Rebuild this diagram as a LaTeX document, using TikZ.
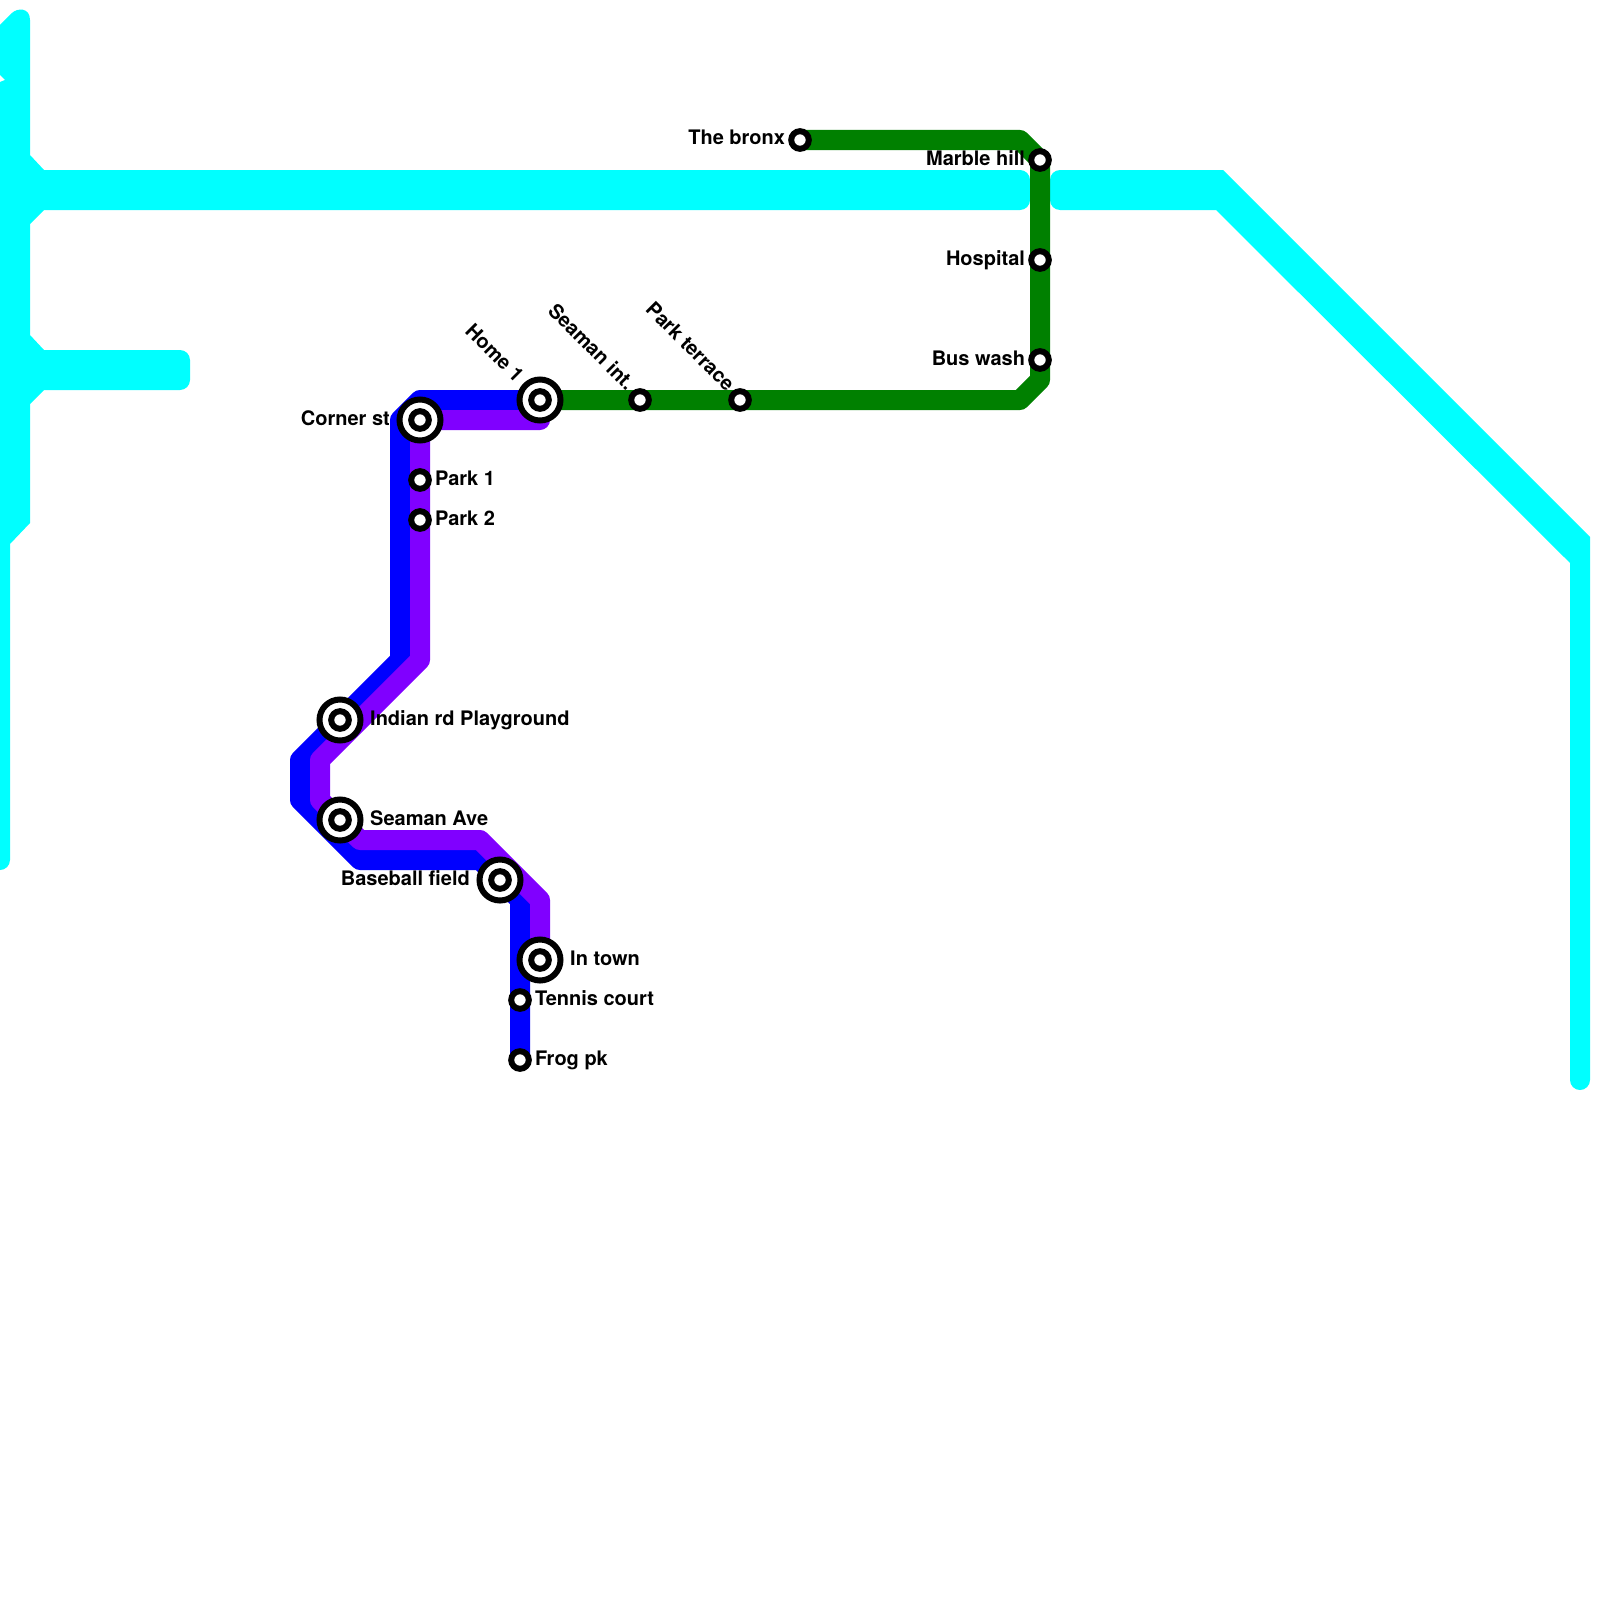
\documentclass[tikz,border=0pt]{standalone}
\usepackage{fontspec}
\setmainfont{TeX Gyre Heros}
\usetikzlibrary{positioning, calc, backgrounds}

\definecolor{lineaqua}{HTML}{00FFFF}
\definecolor{lineblue}{HTML}{0000FF}
\definecolor{linepurple}{HTML}{8000FF}
\definecolor{linegreen}{HTML}{008000}

\begin{document}
\begin{tikzpicture}[
    x=1pt, y=-1pt,
    node distance=6.5pt,
    stop/.style={circle, draw=black, fill=white, line width=6pt, minimum size=17.6pt, inner sep=0pt, outer sep=0pt},
    hub/.style={stop, minimum size=41pt},
    stoplabel/.style={inner sep=0pt, text height=10pt, text depth=0pt, font=\bfseries\fontsize{20}{24}\selectfont},
    route/.style={line width=20pt, line cap=round, line join=round}
]
    \useasboundingbox (0,0) rectangle (1600,1600);

    \node[hub] (home) at (540,400) {};
    \node[stop] (homecore) at (home) {};
    \node[hub] (corner) at (420,420) {};
    \node[stop] (cornercore) at (corner) {};
    \node[hub] (indian) at (340,720) {};
    \node[stop] (indiancore) at (indian) {};
    \node[hub] (seamanave) at (340,820) {};
    \node[stop] (seamanavecore) at (seamanave) {};
    \node[hub] (baseball) at (500,880) {};
    \node[stop] (baseballcore) at (baseball) {};
    \node[hub] (intown) at (540,960) {};
    \node[stop] (intowncore) at (intown) {};

    \node[stop] (seamanint) at (640,400) {};
    \node[stop] (parkterrace) at (740,400) {};
    \node[stop] (bronx) at (800,140) {};
    \node[stop] (marble) at (1040,160) {};
    \node[stop] (hospital) at (1040,260) {};
    \node[stop] (buswash) at (1040,360) {};
    \node[stop] (parkone) at (420,480) {};
    \node[stop] (parktwo) at (420,520) {};
    \node[stop] (tennis) at (520,1000) {};
    \node[stop] (frog) at (520,1060) {};

    \node[stoplabel, rotate=-45, anchor=east] (homelabel) at ($(home)+(-21,-20)$) {Home 1};
    \node[stoplabel, rotate=-45, anchor=east] (seamanintlabel) at ($(seamanint)+(-10,-12)$) {Seaman int.};
    \node[stoplabel, rotate=-45, anchor=east] (parkterracelabel) at ($(parkterrace)+(-10,-11)$) {Park terrace};
    \node[stoplabel, left=9.5pt of corner] (cornerlabel) {Corner st};
    \node[stoplabel, right=9.5pt of indian] (indianlabel) {Indian rd Playground};
    \node[stoplabel, right=9.5pt of seamanave] (seamanavelabel) {Seaman Ave};
    \node[stoplabel, left=9.5pt of baseball] (baseballlabel) {Baseball field};
    \node[stoplabel, right=9.5pt of intown] (intownlabel) {In town};
    \node[stoplabel, left=6pt of bronx] (bronxlabel) {The bronx};
    \node[stoplabel, left=6pt of marble] (marblelabel) {Marble hill};
    \node[stoplabel, left=6pt of hospital] (hospitallabel) {Hospital};
    \node[stoplabel, left=6pt of buswash] (buswashlabel) {Bus wash};
    \node[stoplabel, right=6pt of parkone] (parkonelabel) {Park 1};
    \node[stoplabel, right=6pt of parktwo] (parktwolabel) {Park 2};
    \node[stoplabel, right=6pt of tennis] (tennislabel) {Tennis court};
    \node[stoplabel, right=6pt of frog] (froglabel) {Frog pk};

    \coordinate (purplestart) at (540,420);

    \begin{scope}[on background layer]
        % aqua lines
        \fill[lineaqua] (-10,86) -- (5,80) -- (-10,65) -- (-10,35) -- (12,13) .. controls (17,8) and (30,7) .. (30,20) -- (30,155) -- (44,170) [rounded corners=10pt] -- (1030,170) -- (1030,210) [sharp corners] -- (44,210) -- (30,224) -- (30,335) -- (44,350) [rounded corners=10pt] -- (190,350) -- (190,390) [sharp corners] -- (44,390) -- (30,404) -- (30,523) -- (10,544) [rounded corners=10pt] -- (10,870) -- (-10,870) [sharp corners] -- cycle;
        \fill[lineaqua] (1050,190) [rounded corners=10pt] -- (1050,170) [sharp corners] -- (1223,170) -- (1590,537) [rounded corners=10pt] -- (1590,1090) -- (1570,1090) [sharp corners] -- (1570,563) -- (1216,210) [rounded corners=10pt] -- (1050,210) [sharp corners] -- cycle;

        \draw[route, lineblue] (home.center) -- (420,400) -- (400,420) -- (400,660) -- (300,760) -- (300,800) -- (360,860) -- (480,860) -- (520,900) -- (frog.center);
        \draw[route, linepurple] (purplestart) -- (corner.center) -- (420,660) -- (320,760) -- (320,800) -- (360,840) -- (480,840) -- (540,900) -- (intown.center);
        \draw[route, linegreen] (home.center) -- (1020,400) -- (1040,380) -- (marble.center) -- (1020,140) -- (bronx.center);
    \end{scope}
\end{tikzpicture}
\end{document}
